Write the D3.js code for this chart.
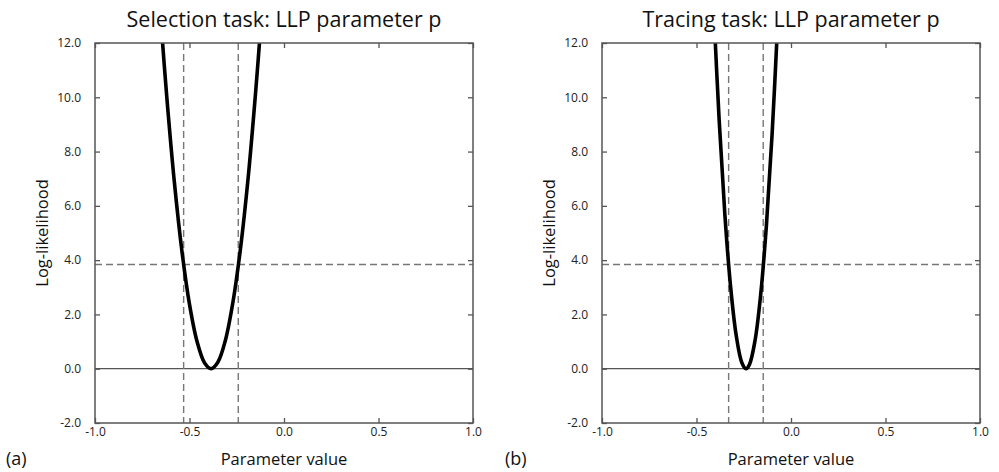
<!DOCTYPE html>
<html>
<head>
<meta charset="utf-8">
<script src="https://d3js.org/d3.v7.min.js"></script>
<style>
body{margin:0;background:#fff;}
text{font-family:"Open Sans","Noto Sans",sans-serif;}
</style>
</head>
<body>
<script>
// chart data
var titles=["Selection task: LLP parameter p","Tracing task: LLP parameter p"];
var panelTags=["(a)","(b)"];
var xTicks=[-1.0,-0.5,0.0,0.5,1.0];
var yTicks=[-2.0,0.0,2.0,4.0,6.0,8.0,10.0,12.0];
var threshold=3.84;

// profile log-likelihood, selection task
var selX=[-0.65,-0.62,-0.58,-0.54,-0.50,-0.46,-0.42,-0.386,-0.35,-0.31,-0.27,-0.23,-0.19,-0.15,-0.12];
var selY=[12.7,10.0,6.87,4.33,2.37,1.00,0.21,0.0,0.24,1.05,2.46,4.44,7.01,10.2,12.9];
var selCI=[-0.531,-0.242];

// profile log-likelihood, tracing task
var trX=[-0.41,-0.38,-0.35,-0.32,-0.29,-0.26,-0.238,-0.22,-0.19,-0.16,-0.13,-0.10,-0.07];
var trY=[13.4,9.15,5.69,3.05,1.23,0.22,0.0,0.15,1.05,2.76,5.29,8.64,12.8];
var trCI=[-0.33,-0.147];

var W=999,H=472;
var svg=d3.select("body").append("svg").attr("width",W).attr("height",H);

// plain hyphen for negatives, like the original
var fmt=d3.formatLocale({decimal:".",thousands:",",grouping:[3],currency:["",""],minus:"-"}).format(".1f");

var panels=[
  {left:95,xs:selX,ys:selY,ci:selCI},
  {left:602,xs:trX,ys:trY,ci:trCI}
];
var pw=378,plotTop=43,ph=380;
var frameCol="#555",dashCol="#777";

panels.forEach(function(p,k){
  var g=svg.append("g").attr("transform","translate("+p.left+","+plotTop+")");
  var x=d3.scaleLinear().domain([-1,1]).range([0,pw]);
  var y=d3.scaleLinear().domain([-2,12]).range([ph,0]);

  g.append("clipPath").attr("id","clip"+k)
    .append("rect").attr("width",pw).attr("height",ph);

  // axes: ticks pointing inward on all four sides
  var ax=[
    {a:d3.axisBottom(x).tickValues(xTicks).tickFormat(fmt),t:"translate(0,"+ph+")",lab:true,pad:4},
    {a:d3.axisTop(x).tickValues(xTicks),t:"translate(0,0)",lab:false,pad:0},
    {a:d3.axisLeft(y).tickValues(yTicks).tickFormat(fmt),t:"translate(0,0)",lab:true,pad:14},
    {a:d3.axisRight(y).tickValues(yTicks),t:"translate("+pw+",0)",lab:false,pad:0}
  ];
  ax.forEach(function(o){
    var s=g.append("g").attr("transform",o.t).call(o.a.tickSizeInner(-5).tickSizeOuter(0).tickPadding(o.pad));
    s.select(".domain").remove();
    s.selectAll("line").attr("stroke",frameCol).attr("stroke-width",1.3);
    if(!o.lab) s.selectAll("text").remove();
    else s.selectAll("text").attr("fill","#222").style("font-size","12px").style("font-family","'Open Sans',sans-serif");
  });

  // zero line
  g.append("line").attr("x1",0).attr("x2",pw).attr("y1",y(0)).attr("y2",y(0))
    .attr("stroke",frameCol).attr("stroke-width",1.3);

  // 95% threshold and CI bounds
  g.append("line").attr("x1",0).attr("x2",pw).attr("y1",y(threshold)).attr("y2",y(threshold))
    .attr("stroke",dashCol).attr("stroke-width",1.4).attr("stroke-dasharray","7,4");
  g.selectAll(".ci").data(p.ci).enter().append("line")
    .attr("x1",function(d){return x(d);}).attr("x2",function(d){return x(d);})
    .attr("y1",0).attr("y2",ph)
    .attr("stroke",dashCol).attr("stroke-width",1.4).attr("stroke-dasharray","7,4");

  // curve
  var pts=p.xs.map(function(v,i){return [v,p.ys[i]];});
  g.append("path").datum(pts)
    .attr("clip-path","url(#clip"+k+")")
    .attr("d",d3.line().x(function(d){return x(d[0]);}).y(function(d){return y(d[1]);}).curve(d3.curveCatmullRom))
    .attr("fill","none").attr("stroke","#000").attr("stroke-width",3.6);

  // frame
  g.append("rect").attr("width",pw).attr("height",ph)
    .attr("fill","none").attr("stroke",frameCol).attr("stroke-width",1.5);

  // labels
  g.append("text").attr("x",pw/2).attr("y",-16).attr("text-anchor","middle")
    .style("font-size","21.5px").attr("fill","#111").text(titles[k]);
  g.append("text").attr("x",pw/2).attr("y",ph+42).attr("text-anchor","middle")
    .style("font-size","16.5px").attr("fill","#111").text("Parameter value");
  g.append("text").attr("transform","translate(-47,"+(ph/2)+") rotate(-90)")
    .attr("text-anchor","middle").style("font-size","16.5px").attr("fill","#111").text("Log-likelihood");
  g.append("text").attr("x",k===0?-89:-97).attr("y",ph+42)
    .style("font-size","18px").attr("fill","#111").text(panelTags[k]);
});
</script>
</body>
</html>
